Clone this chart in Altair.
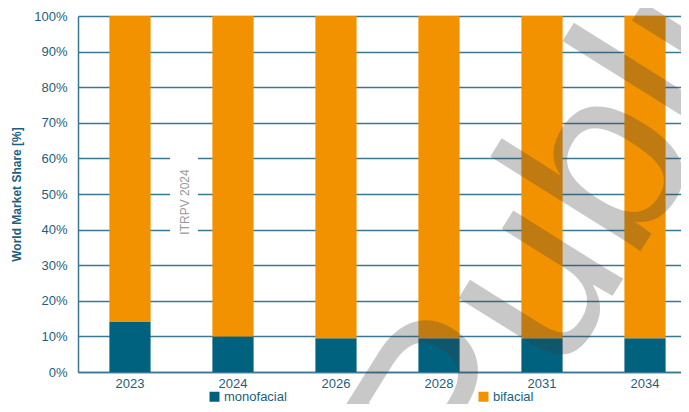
import altair as alt
import pandas as pd

years = ["2023", "2024", "2026", "2028", "2031", "2034"]
monofacial = [14.2, 10.0, 9.5, 9.5, 9.5, 9.5]
bifacial = [85.8, 90.0, 90.5, 90.5, 90.5, 90.5]
series = ["monofacial", "bifacial"]
colors = ["#00627f", "#f39200"]
y_ticks = [0, 10, 20, 30, 40, 50, 60, 70, 80, 90, 100]

rows = []
for i, yr in enumerate(years):
    rows.append({"year": yr, "type": "monofacial", "share": monofacial[i], "ord": 0})
    rows.append({"year": yr, "type": "bifacial", "share": bifacial[i], "ord": 1})
df = pd.DataFrame(rows)

teal = "#1d5f7c"
grid = "#3a7894"
font = "Liberation Sans"

bars = alt.Chart(df).mark_bar().encode(
    x=alt.X("year:N", sort=years, title=None,
            scale=alt.Scale(paddingInner=0.6, paddingOuter=0.227, align=0.671),
            axis=alt.Axis(labelAngle=0, ticks=False, labelFontSize=13, labelColor=teal,
                          labelPadding=5, domainColor=grid, domainWidth=1.5, grid=False,
                          labelFont=font)),
    y=alt.Y("share:Q", stack="zero", scale=alt.Scale(domain=[0, 100]),
            title="World Market Share [%]",
            axis=alt.Axis(values=y_ticks, labelExpr="datum.value + '%'", ticks=False,
                          labelFontSize=13, labelColor=teal, labelPadding=11,
                          labelFont=font, domainColor=grid, domainWidth=1.5,
                          grid=True, gridColor=grid, gridWidth=1.5,
                          titleFont=font, titleFontSize=12, titleFontWeight="bold",
                          titleColor=teal, titlePadding=10)),
    color=alt.Color("type:N", scale=alt.Scale(domain=series, range=colors),
                    legend=alt.Legend(title=None, orient="none", legendX=130, legendY=374,
                                      direction="horizontal", columns=2, columnPadding=190,
                                      symbolType="square", symbolSize=100, symbolStrokeWidth=0,
                                      labelFontSize=13, labelColor=teal, labelFont=font,
                                      symbolOffset=0, labelOffset=3)),
    order=alt.Order("ord:Q"),
)

one = alt.Data(values=[{"k": 1}])

blank = alt.Chart(one).mark_rect(color="white").encode(
    x=alt.value(92), x2=alt.value(120), y=alt.value(129), y2=alt.value(234)
)

itrpv = alt.Chart(one).mark_text(text="ITRPV 2024", angle=270, fontSize=12, font=font,
                                 color="#9a9a9a", align="center", baseline="middle").encode(
    x=alt.value(107), y=alt.value(186)
)

watermark = alt.Chart(one).mark_text(text="Public", angle=302, fontSize=245, font=font,
                                     color="#3d3d3d", opacity=0.28, align="center",
                                     baseline="alphabetic").encode(
    x=alt.value(572), y=alt.value(220)
)

chart = alt.layer(bars, blank, itrpv, watermark).properties(
    width=603, height=356,
    padding={"left": 70, "top": 8, "right": 0, "bottom": 32},
    autosize="none",
).configure_view(stroke=None)

chart.save("out.html", embed_options={"renderer": "svg", "actions": False})
